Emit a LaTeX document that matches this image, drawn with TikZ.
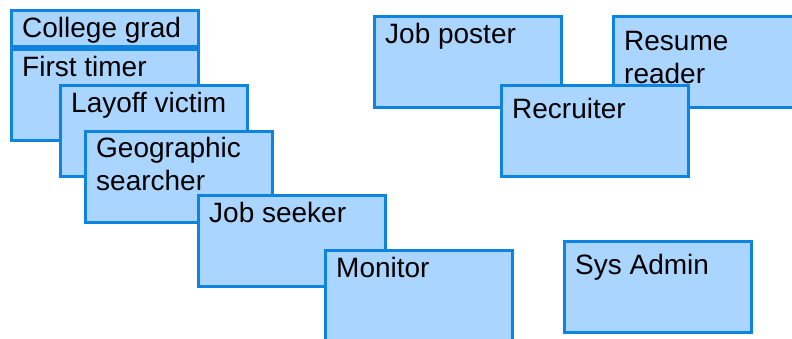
\documentclass[tikz,border=0pt]{standalone}
\usepackage{fontspec}
\setmainfont{Liberation Sans}
\definecolor{boxfill}{RGB}{170,213,255}
\definecolor{boxline}{RGB}{14,132,226}
\tikzset{
  role/.style={draw=boxline, fill=boxfill, line width=3pt, minimum width=187pt,
    minimum height=91pt, anchor=north west, inner sep=0pt},
  rolename/.style={anchor=north west, inner xsep=12pt, inner ysep=8pt,
    text height=20pt, align=left, font=\fontsize{28}{33}\selectfont},
  lowname/.style={rolename, yshift=-6pt},
  % two-line names hang one line lower
  tallname/.style={rolename, yshift=-33pt},
}
\begin{document}
\begin{tikzpicture}[x=1pt, y=-1pt]
    \useasboundingbox (0,0) rectangle (792,339);
    \clip (0,0) rectangle (792,339);

    % Seeker side
    \node[role, label={[rolename]north west:First timer}] (first) at (10,48) {};
    \node[role, minimum height=36pt, label={[rolename]north west:College grad}] (grad) at (10,9) {};
    \node[role, label={[rolename]north west:Layoff victim}] (layoff) at (59,84) {};
    \node[role, label={[tallname, yshift=1pt]north west:Geographic\\searcher}] (geo) at (84,130) {};
    \node[role, label={[rolename]north west:Job seeker}] (seeker) at (197,194) {};
    \node[role, label={[rolename]north west:Monitor}] (monitor) at (324,249) {};

    % Employer side
    \node[role, label={[rolename]north west:Job poster}] (poster) at (373,15) {};
    \node[role, label={[tallname, yshift=-7pt]north west:Resume\\reader}] (resume) at (612,15) {};
    \node[role, label={[lowname]north west:Recruiter}] (recruiter) at (500,84) {};

    % Admin
    \node[role, label={[lowname]north west:Sys Admin}] (sysadmin) at (563,240) {};
\end{tikzpicture}
\end{document}
